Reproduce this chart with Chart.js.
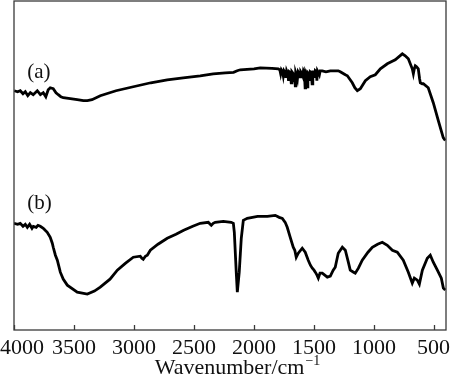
<!DOCTYPE html>
<html>
<head>
<meta charset="utf-8">
<script src="https://cdn.jsdelivr.net/npm/chart.js@4.4.0/dist/chart.umd.min.js"></script>
<style>
  html, body { margin: 0; padding: 0; background: #fff; }
  canvas { display: block; }
</style>
</head>
<body>
<canvas id="ftir" width="450" height="377"></canvas>
<script>
// FTIR spectra (a) and (b) — x reversed 4000 → 400 cm-1, y in arbitrary units (no y labels)

const tickValues = [4000, 3500, 3000, 2500, 2000, 1500, 1000, 500];
const curveLabels = ['(a)', '(b)'];

// Curve (a)
const wavenumberA = [
  3998, 3970, 3948, 3925, 3906, 3885, 3864, 3840, 3806, 3780, 3756, 3735, 3715, 3698, 3673, 3650,
  3631, 3610, 3589, 3531, 3473, 3422, 3389, 3350, 3281, 3150, 3006, 2860, 2723, 2590, 2448, 2340,
  2239, 2170, 2140, 2114, 2000, 1948, 1850, 1798,
  1785, 1778, 1772, 1762, 1756, 1750, 1740, 1734, 1728, 1718, 1712, 1706, 1696, 1690, 1684, 1672,
  1665, 1660, 1656, 1652, 1644, 1638, 1632, 1622, 1616, 1610, 1600, 1594, 1588, 1580, 1574, 1569,
  1562, 1556, 1551, 1544, 1538, 1532, 1522, 1516, 1510, 1500, 1494, 1489, 1480, 1476, 1471, 1462,
  1455, 1448, 1431, 1400, 1364, 1330, 1298, 1281, 1239, 1222,
  1181, 1160, 1139, 1114, 1072, 1031, 989, 947, 889, 823, 764, 740, 714, 681, 672, 664,
  656, 645, 631, 620, 614, 598, 589, 548, 506, 464, 423, 406
];
const transmittanceA = [
  240, 239, 240, 237, 239, 235, 238, 236, 240, 236, 238, 234, 241, 243, 242, 238,
  236, 234, 233, 232, 231, 230, 230, 231, 235, 240, 244, 248, 251, 253, 255, 257,
  258, 258.5, 260, 261, 262, 263, 262.5, 262,
  261, 257, 261, 259, 255, 260, 258, 253, 260, 257, 250, 259, 258, 248, 259, 257,
  250, 258, 245, 258, 255, 252, 259, 257, 254, 259, 257, 255, 260, 258, 243, 258,
  256, 244, 258, 257, 250, 259, 258, 247, 259, 259, 253, 260, 259, 250, 260, 258,
  256, 260, 260, 259, 260, 260, 260, 259, 256, 255,
  248, 243, 240, 242, 250, 254, 256, 262, 267, 271, 277, 275, 272, 262, 257, 262,
  265, 264, 262, 252, 248, 247, 247, 243, 228, 210, 193, 190
];

// Curve (b)
const wavenumberB = [
  4000, 3970, 3948, 3925, 3906, 3889, 3870, 3850, 3839, 3815, 3800, 3781, 3756, 3740, 3723, 3698,
  3681, 3673, 3655, 3639, 3614, 3590, 3556, 3473, 3389, 3330, 3281, 3200, 3139, 3070, 3006, 2948,
  2935, 2923, 2905, 2889, 2864, 2800, 2723, 2650, 2586, 2510, 2448, 2381, 2365, 2356, 2340, 2323,
  2256, 2190, 2172, 2164, 2148, 2139, 2123, 2106, 2089, 2056, 1970, 1889, 1823, 1790, 1764, 1740,
  1723, 1698, 1673, 1660, 1648, 1631, 1598, 1573, 1548, 1530, 1514, 1500, 1489, 1475, 1464, 1450,
  1431, 1410, 1389, 1364, 1340, 1323, 1298, 1264, 1239, 1214, 1198, 1170, 1156, 1130, 1098, 1050,
  1014, 970, 931, 889, 847, 806, 756, 714, 681, 664, 639, 622, 597, 556, 531, 506,
  472, 439, 422, 406
];
const transmittanceB = [
  107, 106, 107, 104, 106, 103, 106, 102, 104, 103, 105, 104, 102, 100, 98, 93,
  87, 83, 75, 70, 58, 51, 45, 38, 36, 39, 43, 51, 60, 67, 73, 74,
  72, 71, 74, 75, 80, 86, 92, 96, 100, 104, 107, 108, 106, 105, 107, 108,
  109, 108, 107, 98, 58, 38, 58, 92, 110, 112, 114, 114, 115, 113, 112, 108,
  103, 93, 83, 80, 73, 77, 82, 78, 70, 65, 62, 60, 58, 55, 52, 57,
  57, 55, 53, 54, 60, 63, 77, 83, 80, 68, 60, 58, 57, 62, 70, 78,
  83, 86, 88, 85, 80, 78, 70, 58, 47, 52, 50, 46, 60, 72, 75, 68,
  60, 52, 42, 40
];

const toPoints = (xs, ys) => xs.map((x, i) => ({ x: x, y: ys[i] }));

const serif = '"Liberation Serif", "Times New Roman", serif';

// frame, inward ticks, tick labels, axis title, curve labels
const framePlugin = {
  id: 'frame',
  afterDraw(chart) {
    const { ctx, chartArea: a, scales } = chart;
    const xs = scales.x, ys = scales.y;
    ctx.save();

    ctx.strokeStyle = '#3a3a3a';
    ctx.lineWidth = 1.3;
    ctx.strokeRect(a.left, a.top, a.right - a.left, a.bottom - a.top);

    ctx.beginPath();
    tickValues.forEach((v) => {
      const x = Math.round(xs.getPixelForValue(v)) + 0.5;
      ctx.moveTo(x, a.bottom);
      ctx.lineTo(x, a.bottom - 5);
    });
    ctx.stroke();

    ctx.fillStyle = '#111';
    ctx.font = '22px ' + serif;
    ctx.textAlign = 'center';
    ctx.textBaseline = 'alphabetic';
    tickValues.forEach((v) => {
      const label = String(v);
      const w = ctx.measureText(label).width;
      let x = xs.getPixelForValue(v);
      x = Math.max(x, w / 2);
      x = Math.min(x, chart.width - w / 2);
      ctx.fillText(label, x, a.bottom + 24);
    });

    // axis title with superscript
    const main = 'Wavenumber/cm';
    const sup = '\u22121';
    ctx.font = '22px ' + serif;
    const wMain = ctx.measureText(main).width;
    ctx.font = '14px ' + serif;
    const wSup = ctx.measureText(sup).width;
    const cx = (a.left + a.right) / 2 + 7;
    const start = cx - (wMain + wSup) / 2;
    ctx.textAlign = 'left';
    ctx.font = '22px ' + serif;
    ctx.fillText(main, start, a.bottom + 44);
    ctx.font = '14px ' + serif;
    ctx.fillText(sup, start + wMain + 1, a.bottom + 35);

    // curve labels
    ctx.font = '21px ' + serif;
    ctx.fillText(curveLabels[0], xs.getPixelForValue(3890), ys.getPixelForValue(253));
    ctx.fillText(curveLabels[1], xs.getPixelForValue(3890), ys.getPixelForValue(121));

    ctx.restore();
  }
};

new Chart(document.getElementById('ftir'), {
  type: 'line',
  data: {
    datasets: [
      {
        label: curveLabels[0],
        data: toPoints(wavenumberA, transmittanceA),
        borderColor: '#000',
        borderWidth: 2.8,
        pointRadius: 0,
        tension: 0,
        fill: false
      },
      {
        label: curveLabels[1],
        data: toPoints(wavenumberB, transmittanceB),
        borderColor: '#000',
        borderWidth: 2.8,
        pointRadius: 0,
        tension: 0,
        fill: false
      }
    ]
  },
  options: {
    responsive: false,
    animation: false,
    layout: { padding: { left: 14, right: 4, top: 1, bottom: 47 } },
    plugins: {
      legend: { display: false },
      tooltip: { enabled: false }
    },
    scales: {
      x: { type: 'linear', reverse: true, min: 400, max: 4000, display: false },
      y: { type: 'linear', min: 0, max: 330, display: false }
    }
  },
  plugins: [framePlugin]
});
</script>
</body>
</html>
